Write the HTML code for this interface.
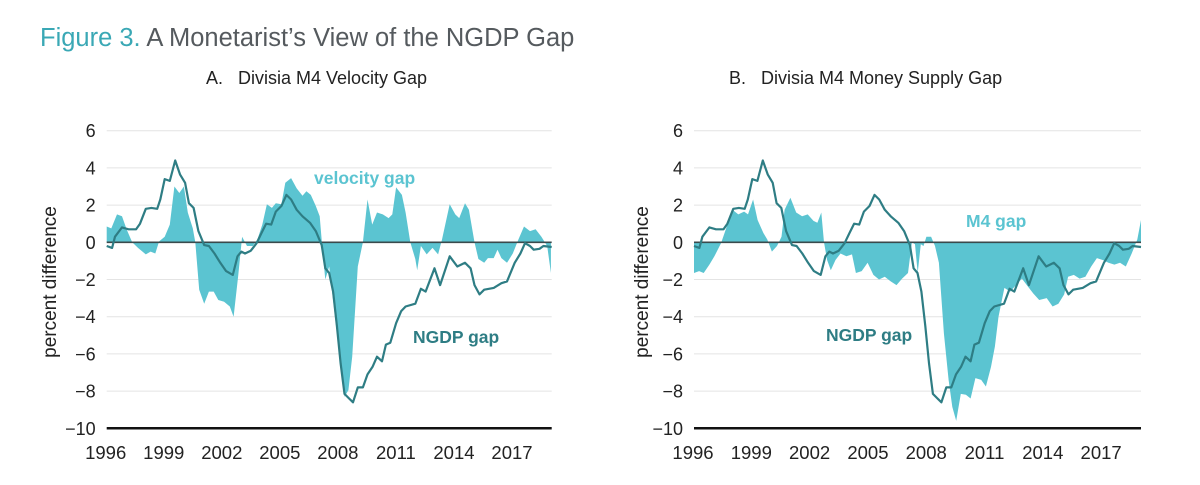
<!DOCTYPE html>
<html><head><meta charset="utf-8"><style>
html,body{margin:0;padding:0;background:#fff;}
svg{display:block;font-family:"Liberation Sans",sans-serif;}
</style></head><body>
<svg id="chart" width="1200" height="485" viewBox="0 0 1200 485">
<text x="40" y="46" font-size="25.5" fill="#555a5e"><tspan fill="#3aa8b5">Figure 3.</tspan> A Monetarist’s View of the NGDP Gap</text>
<text y="84" font-size="18" fill="#222"><tspan x="206">A.</tspan><tspan x="238">Divisia M4 Velocity Gap</tspan></text>
<text y="84" font-size="18" fill="#222"><tspan x="729">B.</tspan><tspan x="761">Divisia M4 Money Supply Gap</tspan></text>
<g id="pa"></g>
<g id="pb"></g>
</svg>
<script>
const yTicks=[6,4,2,0,-2,-4,-6,-8,-10];
const xTickYears=[1996,1999,2002,2005,2008,2011,2014,2017];
const ngdpYears=[1996.0,1996.28,1996.43,1996.79,1997.13,1997.52,1997.72,1998.02,1998.31,1998.61,1998.77,1999.0,1999.26,1999.54,1999.79,2000.05,2000.25,2000.49,2000.74,2001.04,2001.28,2001.57,2001.87,2002.17,2002.52,2002.76,2002.96,2003.15,2003.45,2003.75,2004.0,2004.24,2004.5,2004.74,2005.03,2005.29,2005.53,2005.82,2006.12,2006.51,2006.81,2007.11,2007.3,2007.5,2007.7,2007.9,2008.09,2008.29,2008.53,2008.73,2008.98,2009.24,2009.48,2009.74,2009.97,2010.23,2010.43,2010.66,2010.96,2011.22,2011.45,2011.95,2012.24,2012.48,2012.94,2013.23,2013.73,2014.12,2014.52,2014.81,2015.01,2015.27,2015.51,2016.0,2016.4,2016.69,2017.09,2017.38,2017.62,2017.88,2018.07,2018.37,2018.57,2019.0];
const ngdpGap=[-0.2,-0.3,0.3,0.8,0.7,0.7,1.0,1.8,1.85,1.8,2.3,3.4,3.3,4.4,3.65,3.2,2.1,1.85,0.6,-0.15,-0.2,-0.6,-1.1,-1.55,-1.75,-0.75,-0.5,-0.6,-0.45,-0.05,0.5,1.0,0.95,1.65,1.95,2.55,2.3,1.75,1.4,1.05,0.6,-0.15,-1.4,-1.65,-2.65,-4.5,-6.5,-8.15,-8.4,-8.6,-7.8,-7.8,-7.1,-6.7,-6.15,-6.4,-5.5,-5.4,-4.35,-3.7,-3.45,-3.3,-2.5,-2.65,-1.4,-2.3,-0.75,-1.3,-1.1,-1.4,-2.3,-2.8,-2.55,-2.45,-2.2,-2.1,-1.1,-0.6,-0.05,-0.2,-0.4,-0.35,-0.2,-0.25];
const velYears=[1996.0,1996.24,1996.53,1996.79,1997.03,1997.32,1997.62,1998.02,1998.27,1998.51,1998.71,1999.0,1999.26,1999.5,1999.75,1999.99,2000.19,2000.45,2000.58,2000.78,2001.04,2001.28,2001.53,2001.77,2002.07,2002.36,2002.56,2002.8,2003.0,2003.25,2003.55,2003.79,2004.04,2004.28,2004.54,2004.74,2005.03,2005.23,2005.53,2005.82,2006.12,2006.32,2006.55,2006.81,2007.01,2007.17,2007.3,2007.5,2007.7,2007.9,2008.15,2008.29,2008.49,2008.69,2008.98,2009.24,2009.48,2009.72,2009.97,2010.27,2010.57,2010.76,2010.96,2011.26,2011.45,2011.69,2011.95,2012.05,2012.24,2012.54,2012.84,2013.13,2013.33,2013.73,2014.02,2014.22,2014.52,2014.72,2015.01,2015.21,2015.51,2015.7,2016.0,2016.2,2016.4,2016.69,2016.99,2017.28,2017.57,2017.88,2018.17,2018.47,2018.77,2018.96];
const velGap=[0.85,0.75,1.5,1.4,0.7,0,-0.3,-0.65,-0.5,-0.6,0.05,0.3,0.95,3.0,2.65,3.0,1.6,0.75,0,-2.55,-3.3,-2.65,-2.65,-3.1,-3.2,-3.45,-4.0,-1.75,0.3,-0.2,-0.2,0.15,0.95,2.05,1.85,2.1,2.05,3.2,3.45,2.9,2.5,2.75,2.55,1.95,1.4,-0.6,-2.0,-1.3,-3.1,-4.9,-7.05,-8.3,-7.95,-6.15,-1.3,0,2.3,0.95,1.6,1.5,1.3,1.5,2.95,2.55,1.6,0,-0.9,-1.5,-0.2,-0.65,-0.3,-0.65,0.15,2.05,1.5,1.3,2.1,1.75,0,-0.9,-1.1,-0.85,-0.85,-0.4,-0.85,-1.1,-0.6,0.15,0.85,0.6,0.7,0.3,-0.2,-1.65];
const m4Years=[1996.0,1996.26,1996.5,1996.79,1997.05,1997.39,1997.69,1997.98,1998.28,1998.58,1998.78,1999.04,1999.27,1999.57,1999.77,2000.01,2000.27,2000.5,2000.66,2000.96,2001.26,2001.56,2001.85,2002.15,2002.35,2002.55,2002.69,2002.85,2003.04,2003.28,2003.54,2003.84,2004.13,2004.33,2004.63,2004.93,2005.23,2005.52,2005.82,2006.12,2006.42,2006.71,2007.01,2007.21,2007.37,2007.51,2007.67,2007.81,2007.96,2008.2,2008.4,2008.6,2008.86,2009.1,2009.29,2009.49,2009.73,2009.99,2010.23,2010.48,2010.78,2011.02,2011.28,2011.48,2011.67,2011.97,2012.27,2012.57,2012.87,2013.16,2013.46,2013.76,2014.15,2014.45,2014.75,2015.05,2015.25,2015.54,2015.84,2016.14,2016.44,2016.73,2017.03,2017.33,2017.63,2017.92,2018.22,2018.52,2018.81,2019.0];
const m4Gap=[-1.65,-1.55,-1.65,-1.2,-0.75,-0.05,0.85,1.75,1.5,1.65,1.5,2.3,1.2,0.5,0.15,-0.5,-0.2,0.3,1.75,2.4,1.6,1.4,1.5,1.15,1.05,1.6,0,-0.95,-1.5,-0.95,-0.6,-0.75,-0.65,-1.65,-1.55,-1.1,-1.75,-2.0,-1.85,-2.1,-2.3,-1.95,-1.65,0,-0.1,-1.65,-0.1,-0.2,0.3,0.3,-0.2,-1.1,-4.9,-7.4,-8.85,-9.6,-8.15,-8.2,-8.4,-7.3,-7.4,-7.75,-6.7,-5.6,-4.0,-2.45,-2.65,-2.3,-1.95,-2.35,-2.75,-3.1,-3.0,-3.45,-3.3,-2.8,-1.85,-1.75,-1.95,-1.85,-1.3,-0.85,-0.95,-1.1,-1.2,-1.1,-1.3,-0.6,0.15,1.2];

const NS='http://www.w3.org/2000/svg';
function mk(parent,tag,attrs){const e=document.createElementNS(NS,tag);for(const k in attrs)e.setAttribute(k,attrs[k]);parent.appendChild(e);return e;}

function drawPanel(g,x0,x1,ytitleX,areaYears,areaVals,labels){
  const X=yr=>x0+(yr-1996)/(2019-1996)*(x1-x0);
  const Y=v=>242.3-v*18.6;
  yTicks.forEach(t=>{
    if(t!==0&&t!==-10){const l=mk(g,'line',{x1:x0,x2:x1,y1:Y(t),y2:Y(t),stroke:'#e4e4e4','stroke-width':1});
    
    }
    const tx=mk(g,'text',{x:x0-11,y:Y(t)+6.5,'text-anchor':'end','font-size':18,fill:'#222'});
    tx.textContent=t<0?'\u2212'+(-t):String(t);
    
    
  });
  xTickYears.forEach(yr=>{
    const tx=mk(g,'text',{x:X(yr)-1,y:459,'text-anchor':'middle','font-size':18.5,fill:'#222'});
    tx.textContent=String(yr);
    
    
  });
  let d='M'+X(areaYears[0])+','+Y(0);
  areaYears.forEach((yr,i)=>{d+=' L'+X(yr).toFixed(1)+','+Y(areaVals[i]).toFixed(1);});
  d+=' L'+X(areaYears[areaYears.length-1])+','+Y(0)+' Z';
  const a=mk(g,'path',{d:d,fill:'#5bc4d1',stroke:'none'});
  
  
  const z=mk(g,'line',{x1:x0,x2:x1,y1:Y(0),y2:Y(0),stroke:'#3a4a4c','stroke-width':1.6});
  
  
  const b=mk(g,'line',{x1:x0,x2:x1,y1:Y(-10),y2:Y(-10),stroke:'#111','stroke-width':2.5});
  
  
  const pts=ngdpYears.map((yr,i)=>X(yr).toFixed(1)+','+Y(ngdpGap[i]).toFixed(1)).join(' ');
  const ln=mk(g,'polyline',{points:pts,fill:'none',stroke:'#2e7d84','stroke-width':2.2,'stroke-linejoin':'round'});
  
  
  const yt=mk(g,'text',{x:0,y:0,'text-anchor':'middle','font-size':19,fill:'#222',transform:'translate('+ytitleX+',282) rotate(-90)'});
  yt.textContent='percent difference';
  
  
  labels.forEach(L=>{
    const t=mk(g,'text',{x:L[1],y:L[2],'font-size':17.5,'font-weight':'bold',fill:L[3]});
    t.textContent=L[0];
    
    
  });
}
drawPanel(document.getElementById('pa'),106.7,551.7,56,velYears,velGap,[['velocity gap',314,184,'#5bc4d1','velocity-gap-label'],['NGDP gap',413,343,'#2e7d84','ngdp-gap-label']]);
drawPanel(document.getElementById('pb'),694,1141,648,m4Years,m4Gap,[['M4 gap',966,227,'#5bc4d1','m4-gap-label'],['NGDP gap',826,341,'#2e7d84','ngdp-gap-label']]);
</script>
</body></html>
